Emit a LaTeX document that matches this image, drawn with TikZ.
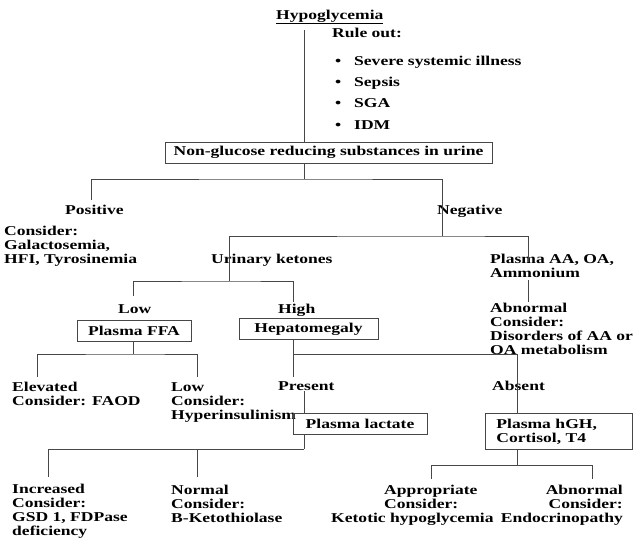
\documentclass[tikz,border=0pt]{standalone}
\usepackage{fontspec}
\setmainfont{Liberation Serif}[FakeStretch=1.3]
\colorlet{lc}{black!72}
\newcommand\blt{\makebox[19pt][l]{\textbullet}}
\begin{document}
\begin{tikzpicture}[x=1pt,y=-1pt,
  every node/.style={font=\fontsize{13.5}{14}\selectfont\bfseries,inner sep=0pt},
  txt/.style={anchor=base west,align=left},
  boxed/.style={draw=lc,line width=.8pt,minimum height=21pt},
  link/.style={draw=lc,line width=.8pt}]
\useasboundingbox (0,0) rectangle (634,539);

% top (multi-line nodes sit on their last baseline)
\node[txt] (hypo) at (276,19) {\underline{Hypoglycemia}};
\node[txt] (rule) at (332,37) {Rule out:};
\node[txt] (ill) at (335,65) {\blt Severe systemic illness};
\node[txt] (sep) at (335,86) {\blt Sepsis};
\node[txt] (sga) at (335,107) {\blt SGA};
\node[txt] (idm) at (335,129) {\blt IDM};
\node[boxed,minimum width=327pt] (ngr) at (328.5,152.5) {Non-glucose reducing substances in urine};

% positive / negative
\node[txt] (pos) at (65,214) {Positive};
\node[txt] (gal) at (4,263) {Consider:\\Galactosemia,\\HFI, Tyrosinemia};
\node[txt] (neg) at (437,214) {Negative};
\node[txt] (uk) at (211,263) {Urinary ketones};
\node[txt] (paa) at (490,277) {Plasma AA, OA,\\Ammonium};
\node[txt] (dis) at (490,354) {Abnormal\\Consider:\\Disorders of AA or\\OA metabolism};

% ketones
\node[txt] (low) at (118,313) {Low};
\node[txt] (high) at (278,313) {High};
\node[boxed,minimum width=114pt] (ffa) at (134,330.5) {Plasma FFA};
\node[boxed,minimum width=139pt] (hep) at (308.5,329) {Hepatomegaly};
\node[txt] (elev) at (12,405) {Elevated\\Consider: FAOD};
\node[txt] (hyp) at (171,419) {Low\\Consider:\\Hyperinsulinism};
\node[txt] (pres) at (278,390) {Present};
\node[txt] (abs) at (492,390) {Absent};
\node[boxed,minimum width=134pt] (lac) at (360,423.5) {Plasma lactate};
\node[boxed,anchor=north west,minimum width=147pt,minimum height=36pt,
  inner xsep=11pt,text width=125pt,align=left] (hgh) at (485,413) {Plasma hGH,\\Cortisol, T4};

% bottom row
\node[txt] (inc) at (12,535.5) {Increased\\Consider:\\GSD 1, FDPase\\deficiency};
\node[txt] (nor) at (171,522) {Normal\\Consider:\\B-Ketothiolase};
\node[txt] (app) at (331,522) {\hspace*{53pt}Appropriate\\\hspace*{53pt}Consider:\\Ketotic hypoglycemia};
\node[anchor=base east,align=right] (endo) at (623,522) {Abnormal\\Consider:\\Endocrinopathy};

% junctions
\coordinate (a1) at (304,30);
\coordinate (a2) at (304,179);
\coordinate (pl) at (91,200);
\coordinate (nl) at (442,236);
\coordinate (ukj) at (229,281);
\coordinate (pa1) at (528,262);
\coordinate (pa2) at (528,280);
\coordinate (pa3) at (528,302);
\coordinate (lowt) at (133,296);
\coordinate (hight) at (293,302);
\coordinate (f1) at (133,354);
\coordinate (elevt) at (37,377);
\coordinate (lowt2) at (197,377);
\coordinate (h1) at (293,354);
\coordinate (prest) at (293,377);
\coordinate (abst) at (517,378);
\coordinate (pr1) at (304,391);
\coordinate (l1) at (304,449);
\coordinate (inct) at (48,477);
\coordinate (nort) at (197,477);
\coordinate (g1) at (517,465);
\coordinate (appt) at (431,479);
\coordinate (endt) at (592,479);

% connectors
\draw[link] (a1) -- (a1 |- ngr.north);
\draw[link] (ngr.south -| a2) -- (a2);
\draw[link] (pl) |- (a2) -| (nl);
\draw[link] (ukj) |- (nl) -| (pa1);
\draw[link] (pa2) -- (pa3);
\draw[link] (lowt) |- (ukj) -| (hight);
\draw[link] (ffa.south -| f1) -- (f1);
\draw[link] (elevt) |- (f1) -| (lowt2);
\draw[link] (hep.south -| h1) -- (prest);
\draw[link] (h1) -| (hgh.north -| abst);
\draw[link] (pr1) -- (lac.north -| pr1);
\draw[link] (lac.south -| l1) -- (l1);
\draw[link] (inct) |- (l1);
\draw[link] (nort) -- (nort |- l1);
\draw[link] (hgh.south -| g1) -- (g1);
\draw[link] (appt) |- (g1) -| (endt);
\end{tikzpicture}
\end{document}
